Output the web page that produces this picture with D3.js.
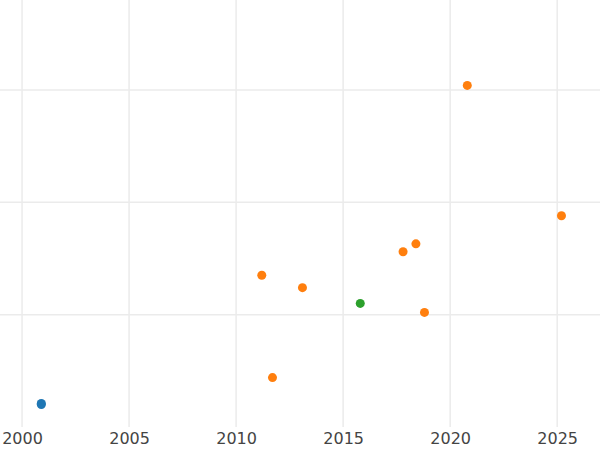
<!DOCTYPE html>
<html><head><meta charset="utf-8">
<script src="https://cdn.jsdelivr.net/npm/d3@7"></script>
<style>body{margin:0;background:#fff}</style>
</head><body>
<script>
const years = [2000.9, 2000.9, 2020.8, 2025.2, 2018.4, 2017.8, 2011.2, 2013.1, 2018.8, 2011.7, 2015.8];
const values = [0.21, 0.20, 3.04, 1.88, 1.63, 1.56, 1.35, 1.24, 1.02, 0.44, 1.10];
const groups = ["a", "a", "b", "b", "b", "b", "b", "b", "b", "b", "c"];
const xTicks = [2000, 2005, 2010, 2015, 2020, 2025];
const yTicks = [1, 2, 3];

const width = 600, height = 450;
const svg = d3.select("body").append("svg").attr("width", width).attr("height", height);

const x = d3.scaleLinear().domain([1998.97, 2027.0]).range([0, width]);
const y = d3.scaleLinear().domain([0, 3.8]).range([427, 0]);
const color = d3.scaleOrdinal().domain(["a", "b", "c"]).range(["#1f77b4", "#ff7f0e", "#2ca02c"]);

svg.selectAll(".vg").data(xTicks).enter().append("line")
  .attr("x1", d => x(d)).attr("x2", d => x(d)).attr("y1", 0).attr("y2", 427)
  .attr("stroke", "#ebebeb").attr("stroke-width", 1.5);
svg.selectAll(".hg").data(yTicks).enter().append("line")
  .attr("x1", 0).attr("x2", width).attr("y1", d => y(d)).attr("y2", d => y(d))
  .attr("stroke", "#ebebeb").attr("stroke-width", 1.5);

const xAxis = svg.append("g").attr("transform", "translate(0,427)")
  .call(d3.axisBottom(x).tickValues(xTicks).tickFormat(d3.format("d")).tickSize(0).tickPadding(6));
xAxis.select(".domain").remove();
xAxis.selectAll("text").attr("font-family", "DejaVu Sans").attr("font-size", 16).attr("fill", "#444");

svg.selectAll("circle").data(years).enter().append("circle")
  .attr("cx", d => x(d)).attr("cy", (d, i) => y(values[i])).attr("r", 4.5)
  .attr("fill", (d, i) => color(groups[i]));
</script>
</body></html>
